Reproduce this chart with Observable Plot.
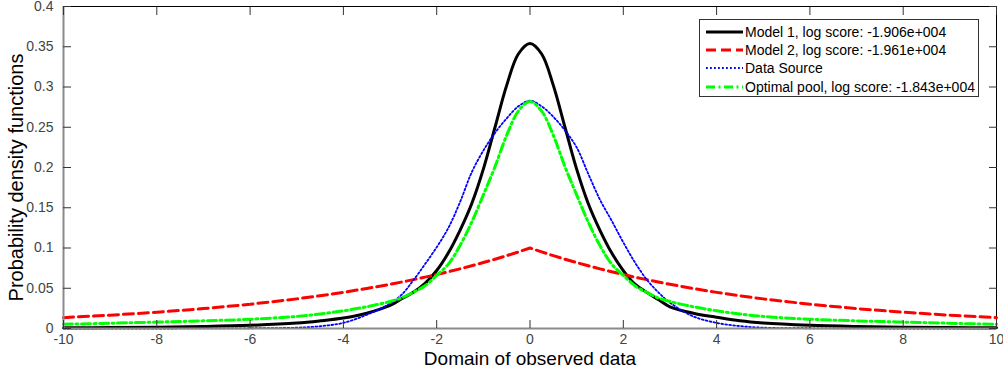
<!DOCTYPE html>
<html>
<head>
<meta charset="utf-8">
<script src="https://cdn.jsdelivr.net/npm/d3@7"></script>
<script src="https://cdn.jsdelivr.net/npm/@observablehq/plot@0.6"></script>
<style>
  html, body { margin: 0; padding: 0; background: #fff; }
  #wrap { position: relative; width: 1003px; height: 374px; font-family: "Liberation Sans", Arial, sans-serif; }
  #legend { position: absolute; left: 699px; top: 19px; }
</style>
</head>
<body>
<div id="wrap"><div id="chart"></div><div id="legend"></div></div>
<script>
// ---- data ----
const xGrid = [-10,-9,-8,-7,-6,-5,-4.5,-4,-3.5,-3,-2.75,-2.5,-2.25,-2,-1.75,-1.5,-1.25,-1,-0.75,-0.5,-0.25,
               0,0.25,0.5,0.75,1,1.25,1.5,1.75,2,2.25,2.5,2.75,3,3.5,4,4.5,5,6,7,8,9,10];

const model1 = [0.0008,0.0011,0.0016,0.0025,0.0040,0.0068,0.0095,0.013,0.019,0.0286,0.037,0.045,0.056,0.072,0.094,0.122,0.155,0.198,0.250,0.302,0.341,
                0.354,0.341,0.302,0.250,0.198,0.155,0.122,0.094,0.072,0.055,0.045,0.036,0.027,0.019,0.014,0.0095,0.0068,0.0040,0.0025,0.0016,0.0011,0.0008];

const model2 = [0.0135,0.0165,0.0202,0.0247,0.0301,0.0368,0.0407,0.0449,0.0497,0.0549,0.0577,0.0607,0.0638,0.0670,0.0705,0.0741,0.0779,0.0819,0.0861,0.0905,0.0951,
                0.100,0.0951,0.0905,0.0861,0.0819,0.0779,0.0741,0.0705,0.0670,0.0638,0.0607,0.0577,0.0549,0.0497,0.0449,0.0407,0.0368,0.0301,0.0247,0.0202,0.0165,0.0135];

const dataSource = [0,0,0,0.0001,0.0003,0.001,0.0028,0.007,0.017,0.031,0.042,0.060,0.080,0.101,0.125,0.157,0.194,0.221,0.243,0.261,0.276,
                    0.283,0.276,0.263,0.246,0.225,0.192,0.160,0.134,0.107,0.082,0.061,0.045,0.032,0.015,0.007,0.003,0.001,0.0003,0.0001,0,0,0];

const optimalPool = [0.0052,0.0065,0.008,0.0095,0.0115,0.015,0.018,0.022,0.027,0.0335,0.038,0.045,0.053,0.066,0.080,0.103,0.132,0.166,0.201,0.240,0.270,
                     0.282,0.270,0.240,0.201,0.166,0.132,0.103,0.080,0.066,0.053,0.045,0.038,0.0335,0.027,0.022,0.018,0.015,0.0115,0.0095,0.008,0.0065,0.0052];

const seriesNames = [
  "Model 1, log score: -1.906e+004",
  "Model 2, log score: -1.961e+004",
  "Data Source",
  "Optimal pool, log score: -1.843e+004"
];

const xTicks = [-10,-8,-6,-4,-2,0,2,4,6,8,10];
const xTickLabels = ["-10","-8","-6","-4","-2","0","2","4","6","8","10"];
const yTicks = [0,0.05,0.1,0.15,0.2,0.25,0.3,0.35,0.4];
const yTickLabels = ["0","0.05","0.1","0.15","0.2","0.25","0.3","0.35","0.4"];

const xLabel = "Domain of observed data";
const yLabel = "Probability density functions";

// ---- styles ----
const styles = [
  {stroke: "#000000", strokeWidth: 3,   dash: null,          curve: "catmull-rom"},
  {stroke: "#ff0000", strokeWidth: 3,   dash: "10,5",        curve: "linear"},
  {stroke: "#0000ff", strokeWidth: 1.8, dash: "1.8,2.2",     curve: "catmull-rom"},
  {stroke: "#00ff00", strokeWidth: 3,   dash: "9,3.5,2,3.5", curve: "catmull-rom"}
];

const allSeries = [model1, model2, dataSource, optimalPool];
const tables = allSeries.map((arr, s) => xGrid.map((x, i) => ({x, y: arr[i], series: seriesNames[s]})));

const lineMarks = tables.map((t, s) => Plot.line(t, {
  x: "x", y: "y",
  stroke: styles[s].stroke,
  strokeWidth: styles[s].strokeWidth,
  strokeDasharray: styles[s].dash,
  curve: styles[s].curve,
  strokeLinejoin: "round"
}));

const fmtX = d => xTickLabels[xTicks.indexOf(d)];
const fmtY = d => yTickLabels[yTicks.indexOf(d)];

const chart = Plot.plot({
  width: 1003,
  height: 374,
  marginLeft: 63,
  marginRight: 7,
  marginTop: 6,
  marginBottom: 46,
  style: {fontFamily: "Liberation Sans, Arial, sans-serif", background: "#fff", overflow: "visible"},
  x: {domain: [-10, 10]},
  y: {domain: [0, 0.4]},
  marks: [
    Plot.frame({stroke: "#000", strokeWidth: 1}),
    ...lineMarks,
    Plot.ruleY([0], {stroke: "#8a8a8a", strokeWidth: 2}),
    Plot.ruleX([-10], {stroke: "#8a8a8a", strokeWidth: 2}),
    // inward ticks
    Plot.axisX({anchor: "bottom", ticks: xTicks, tickSize: -8, tickFormat: () => "", stroke: "#333", label: null}),
    Plot.axisX({anchor: "top", ticks: xTicks, tickSize: -8, tickFormat: () => "", stroke: "#333", label: null}),
    Plot.axisY({anchor: "left", ticks: yTicks, tickSize: -8, tickFormat: () => "", stroke: "#333", label: null}),
    Plot.axisY({anchor: "right", ticks: yTicks, tickSize: -8, tickFormat: () => "", stroke: "#333", label: null}),
    // tick labels
    Plot.axisX({anchor: "bottom", ticks: xTicks, tickSize: 0, tickPadding: 6, tickFormat: fmtX, fontSize: 14, fill: "#444", label: null}),
    Plot.axisY({anchor: "left", ticks: yTicks, tickSize: 0, tickPadding: 10, tickFormat: fmtY, fontSize: 14, fill: "#444", label: null}),
    // axis titles
    Plot.text([xLabel], {frameAnchor: "bottom", text: d => d, dy: 23, fontSize: 19, fill: "#000", lineAnchor: "top", textAnchor: "middle"}),
    Plot.text([yLabel], {frameAnchor: "left", text: d => d, dx: -47, dy: 10, rotate: -90, fontSize: 20, fill: "#000", textAnchor: "middle"})
  ]
});
document.getElementById("chart").appendChild(chart);

// ---- legend ----
const lw = 280, lh = 78;
const lsvg = d3.select("#legend").append("svg")
  .attr("width", lw).attr("height", lh)
  .style("font-family", "Liberation Sans, Arial, sans-serif");
lsvg.append("rect").attr("x", 0.5).attr("y", 0.5).attr("width", lw - 1).attr("height", lh - 1)
  .attr("fill", "#fff").attr("stroke", "#333").attr("stroke-width", 1);
const rowY = [13, 31, 49, 68];
seriesNames.forEach((name, i) => {
  const g = lsvg.append("g");
  g.append("line").attr("x1", 7).attr("x2", 44).attr("y1", rowY[i]).attr("y2", rowY[i])
    .attr("stroke", styles[i].stroke).attr("stroke-width", styles[i].strokeWidth)
    .attr("stroke-dasharray", styles[i].dash);
  g.append("text").attr("x", 46).attr("y", rowY[i]).attr("dy", "0.35em")
    .attr("font-size", 14).attr("fill", "#000").text(name);
});
</script>
</body>
</html>
